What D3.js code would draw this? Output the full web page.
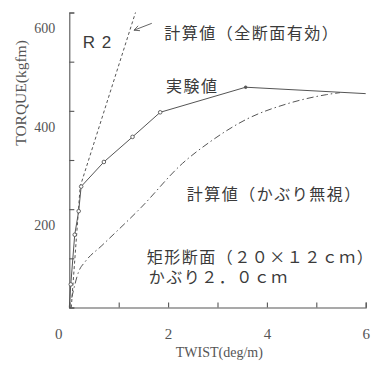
<!DOCTYPE html>
<html>
<head>
<meta charset="utf-8">
<script src="https://cdn.jsdelivr.net/npm/d3@7"></script>
<style>
  body { margin: 0; background: #fff; }
  svg { display: block; }
</style>
</head>
<body>
<svg id="drawing_region"></svg>
<script>
// experimental curve (実験値)
const exp_twist  = [0, 0.03, 0.11, 0.19, 0.24, 0.70, 1.28, 1.84, 3.57, 6.0];
const exp_torque = [0, 47, 148, 196, 246, 296, 347, 397, 448, 435];

// calculated, full section effective (全断面有効)
const full_twist  = [0.04, 0.22, 1.34];
const full_torque = [0, 246, 600];

// calculated, cover ignored (かぶり無視)
const cover_twist  = [0.05, 0.19, 0.32, 0.66, 1.45, 2.29, 2.85, 3.59, 4.40, 5.21, 5.48];
const cover_torque = [20, 73, 93, 126, 203, 293, 337, 383, 414, 433, 437];

const x_ticks = [0, 1, 2, 3, 4, 5, 6];
const x_labels = [0, 2, 4, 6];
const y_ticks = [0, 100, 200, 300, 400, 500, 600];
const y_labels = [200, 400, 600];

const zip = (xs, ys) => xs.map((x, i) => ({ x: x, y: ys[i] }));

const config = {
  parent: '#drawing_region',
  width: 374,
  height: 367,
  margin: { top: 12.5, right: 8.3, bottom: 59.5, left: 69.3 }
};

const svg = d3.select(config.parent)
  .attr('width', config.width)
  .attr('height', config.height);

const chart = svg.append('g')
  .attr('transform', `translate(${config.margin.left}, ${config.margin.top})`);

const chart_width = config.width - config.margin.left - config.margin.right;
const chart_height = config.height - config.margin.top - config.margin.bottom;

const x_scale = d3.scaleLinear().domain([0, 6]).range([0, chart_width]);
const y_scale = d3.scaleLinear().domain([0, 600]).range([chart_height, 0]);

const line_color = '#555';
const text_color = '#3a3a3a';

// axes
const x_axis = d3.axisBottom(x_scale)
  .tickValues(x_ticks)
  .tickSizeInner(-5).tickSizeOuter(-5).tickPadding(21)
  .tickFormat(d => x_labels.includes(d) ? d : '');

const y_axis = d3.axisLeft(y_scale)
  .tickValues(y_ticks)
  .tickSizeInner(-5).tickSizeOuter(-5).tickPadding(14)
  .tickFormat(d => y_labels.includes(d) ? d : '');

const xaxis_group = chart.append('g')
  .attr('transform', `translate(0, ${chart_height})`)
  .call(x_axis);

const yaxis_group = chart.append('g')
  .call(y_axis);

[xaxis_group, yaxis_group].forEach(g => {
  g.selectAll('path, line').attr('stroke', line_color).attr('stroke-width', 1.1);
  g.selectAll('text')
    .attr('fill', '#555')
    .style('font-family', '"Liberation Serif", "DejaVu Serif", serif');
});
xaxis_group.selectAll('text').style('font-size', '15px');
xaxis_group.selectAll('.tick').filter(d => d === 0).select('text').attr('dx', -11);
yaxis_group.selectAll('text').style('font-size', '14px').attr('dy', '1.45em');

// axis titles
chart.append('text')
  .attr('x', (176 + 262.7) / 2 - config.margin.left)
  .attr('y', chart_height + 49)
  .attr('text-anchor', 'middle')
  .attr('fill', '#555')
  .style('font-family', '"Liberation Serif", serif')
  .style('font-size', '14px')
  .text('TWIST(deg/m)');

chart.append('text')
  .attr('transform', `translate(${21 + 5 - config.margin.left}, ${93 - config.margin.top}) rotate(-90)`)
  .attr('text-anchor', 'middle')
  .attr('fill', '#555')
  .style('font-family', '"Liberation Serif", serif')
  .style('font-size', '15.5px')
  .text('TORQUE(kgfm)');

// lines
const line = d3.line()
  .x(d => x_scale(d.x))
  .y(d => y_scale(d.y));

const smooth = d3.line()
  .x(d => x_scale(d.x))
  .y(d => y_scale(d.y))
  .curve(d3.curveMonotoneX);

chart.append('path')
  .attr('d', line(zip(full_twist, full_torque)))
  .attr('fill', 'none')
  .attr('stroke', line_color)
  .attr('stroke-width', 1)
  .attr('stroke-dasharray', '3,2.5');

chart.append('path')
  .attr('d', smooth(zip(cover_twist, cover_torque)))
  .attr('fill', 'none')
  .attr('stroke', line_color)
  .attr('stroke-width', 1)
  .attr('stroke-dasharray', '7,3,1.5,3');

const exp_data = zip(exp_twist, exp_torque);

chart.append('path')
  .attr('d', line(exp_data))
  .attr('fill', 'none')
  .attr('stroke', line_color)
  .attr('stroke-width', 1);

chart.selectAll('circle')
  .data(exp_data.slice(1, -1))
  .enter()
  .append('circle')
  .attr('cx', d => x_scale(d.x))
  .attr('cy', d => y_scale(d.y))
  .attr('r', (d, i) => i === 7 ? 1.3 : 1.8)
  .attr('fill', (d, i) => i === 7 ? line_color : '#fff')
  .attr('stroke', line_color)
  .attr('stroke-width', 0.9);

// arrow pointing at the full-section line
const arrow_from = { x: 1.67, y: 578 };
const arrow_to = { x: 1.31, y: 564 };
const ax0 = x_scale(arrow_from.x), ay0 = y_scale(arrow_from.y);
const ax1 = x_scale(arrow_to.x), ay1 = y_scale(arrow_to.y);
const ang = Math.atan2(ay0 - ay1, ax0 - ax1);
chart.append('path')
  .attr('d', `M${ax0},${ay0}L${ax1},${ay1}` +
    `M${ax1 + 6 * Math.cos(ang - 0.45)},${ay1 + 6 * Math.sin(ang - 0.45)}L${ax1},${ay1}` +
    `L${ax1 + 6 * Math.cos(ang + 0.45)},${ay1 + 6 * Math.sin(ang + 0.45)}`)
  .attr('fill', 'none')
  .attr('stroke', line_color)
  .attr('stroke-width', 0.9);

// annotations
const notes = [
  { x: 1.92, y: 561, t: '計算値（全断面有効）' },
  { x: 1.96, y: 453, t: '実験値' },
  { x: 2.38, y: 233, t: '計算値（かぶり無視）' },
  { x: 1.57, y: 104, t: '矩形断面（２０×１２ｃｍ）' },
  { x: 1.61, y: 65,  t: 'かぶり２．０ｃｍ' }
];

chart.selectAll('.note')
  .data(notes)
  .enter()
  .append('text')
  .attr('class', 'note')
  .attr('x', d => x_scale(d.x))
  .attr('y', d => y_scale(d.y))
  .attr('dominant-baseline', 'central')
  .attr('fill', text_color)
  .style('font-family', '"Noto Sans CJK JP", sans-serif')
  .style('font-size', '16px')
  .style('letter-spacing', '1.5px')
  .text(d => d.t);

chart.append('text')
  .attr('x', x_scale(0.27))
  .attr('y', y_scale(539))
  .attr('dominant-baseline', 'central')
  .attr('fill', text_color)
  .style('font-family', '"Liberation Sans", Arial, sans-serif')
  .style('font-size', '17px')
  .style('letter-spacing', '1px')
  .text('R 2');
</script>
</body>
</html>
